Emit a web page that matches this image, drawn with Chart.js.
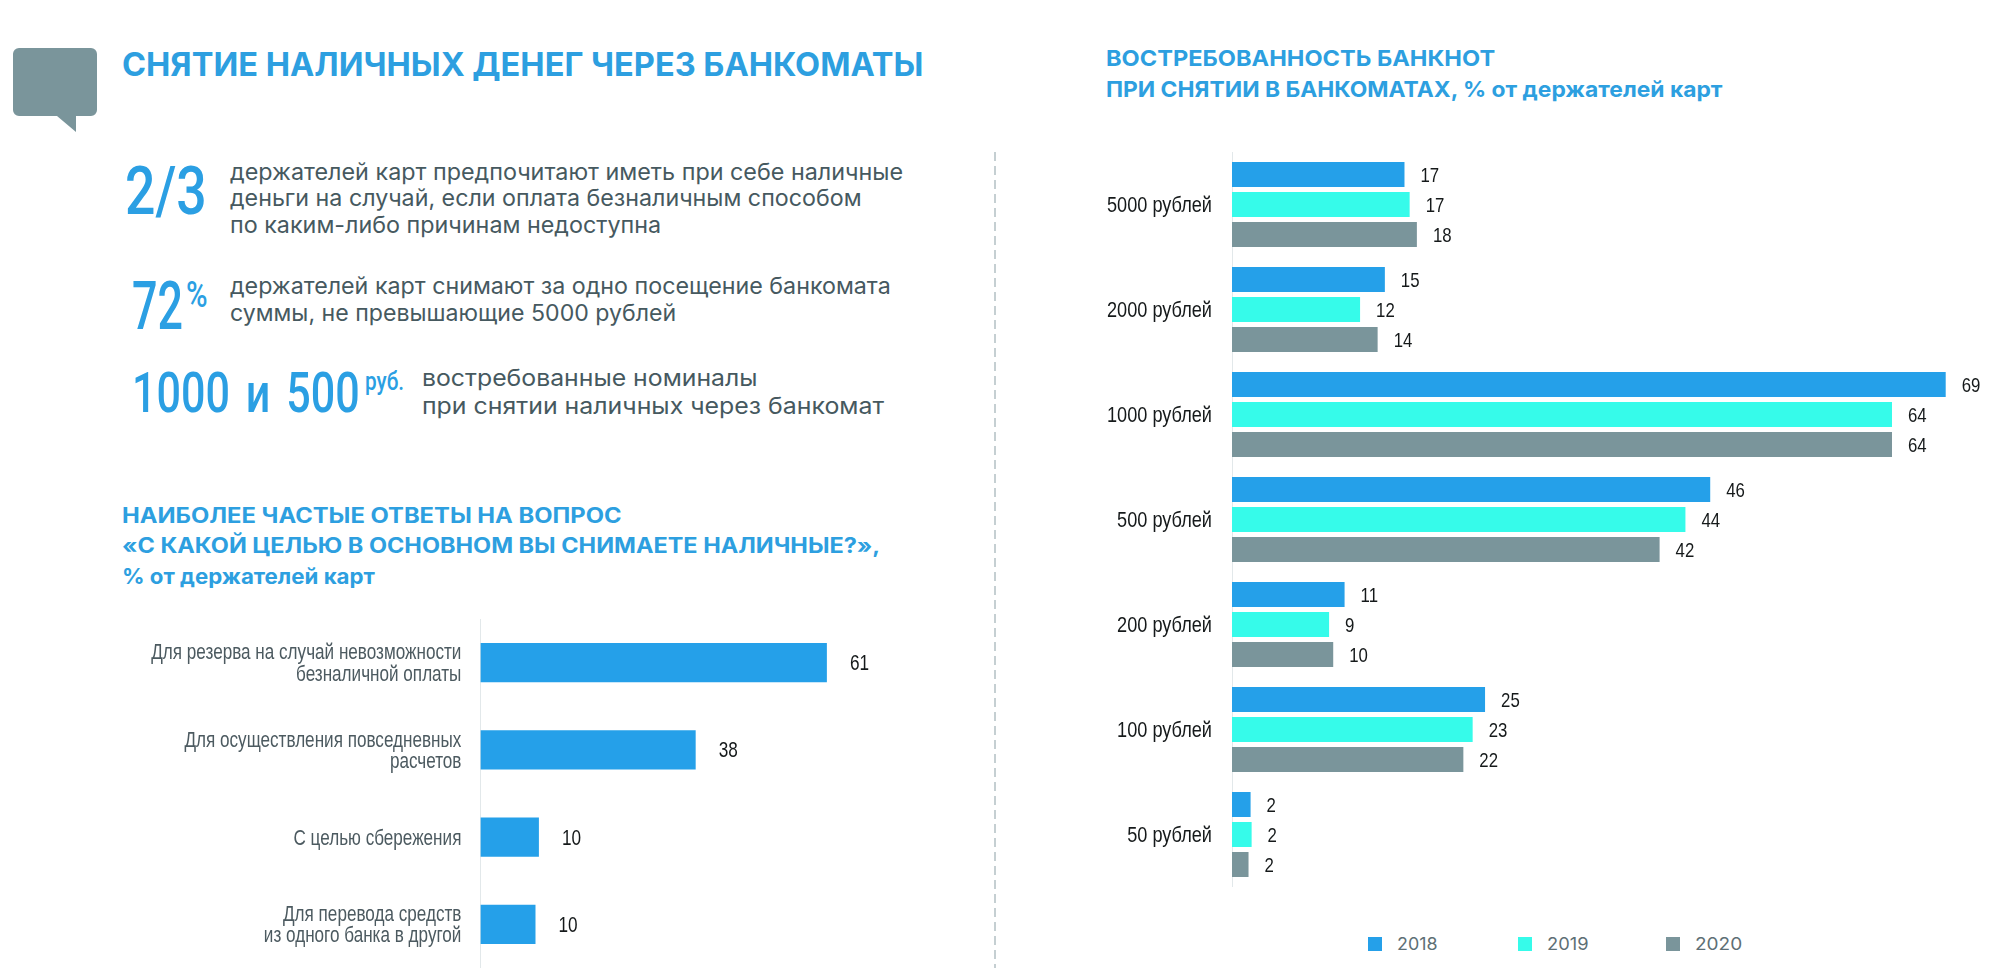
<!DOCTYPE html>
<html lang="ru">
<head>
<meta charset="utf-8">
<title>Снятие наличных денег через банкоматы</title>
<script src="https://cdn.jsdelivr.net/npm/chart.js@4"></script>
<style>
  html, body { margin: 0; padding: 0; background: #fff; width: 2000px; height: 972px; overflow: hidden; }
  .t { position: absolute; white-space: nowrap; line-height: 1; transform-origin: 0 50%; }
  .head { font-family: Inter, sans-serif; font-weight: 700; color: #2d9fe0; }
  .body { font-family: Inter, sans-serif; font-weight: 400; color: #46595f; font-size: 22.5px; }
  .big { font-family: Roboto, sans-serif; font-weight: 500; color: #2b9fe3; }
  .wrap { position: absolute; }
  .sq { position: absolute; top: 937px; width: 14px; height: 14px; }
  .leg { font-family: Inter, sans-serif; color: #5e6f75; font-size: 17px; }
</style>
</head>
<body>
<svg style="position:absolute;left:0;top:0" width="110" height="140">
  <path d="M19 48H91a6 6 0 0 1 6 6V110a6 6 0 0 1 -6 6H76V132L57 116H19a6 6 0 0 1 -6 -6V54a6 6 0 0 1 6 -6Z" fill="#7a959b"/>
</svg>
<svg style="position:absolute;left:994px;top:150px" width="3" height="820">
  <line x1="1" y1="2" x2="1" y2="818" stroke="#9fb0b5" stroke-width="1.2" stroke-dasharray="9 5"/>
</svg>

<span class="t head" data-w="801" style="left:122px;top:65px;font-size:32px">СНЯТИЕ НАЛИЧНЫХ ДЕНЕГ ЧЕРЕЗ БАНКОМАТЫ</span>

<span class="t big" data-w="82" style="left:125px;top:192px;font-size:66px">2/3</span>
<span class="t body" data-w="673" style="left:230px;top:172px">держателей карт предпочитают иметь при себе наличные</span>
<span class="t body" data-w="632" style="left:230px;top:198px">деньги на случай, если оплата безналичным способом</span>
<span class="t body" data-w="431" style="left:230px;top:225px">по каким-либо причинам недоступна</span>

<span class="t big" data-w="51" style="left:132px;top:307px;font-size:66px">72</span>
<span class="t big" data-w="22" style="left:186px;top:295px;font-size:36px">%</span>
<span class="t body" data-w="661" style="left:230px;top:286px">держателей карт снимают за одно посещение банкомата</span>
<span class="t body" data-w="446" style="left:230px;top:313px">суммы, не превышающие 5000 рублей</span>

<span class="t big" data-w="228" style="left:132px;top:393px;font-size:55px;word-spacing:.12em">1000 и 500</span>
<span class="t big" data-w="39" style="left:365px;top:381px;font-size:26px">руб.</span>
<span class="t body" data-w="335" style="left:422px;top:378px">востребованные номиналы</span>
<span class="t body" data-w="462" style="left:422px;top:406px">при снятии наличных через банкомат</span>

<span class="t head" data-w="499" style="left:122px;top:515px;font-size:21px">НАИБОЛЕЕ ЧАСТЫЕ ОТВЕТЫ НА ВОПРОС</span>
<span class="t head" data-w="758" style="left:122px;top:545px;font-size:21px">«С КАКОЙ ЦЕЛЬЮ В ОСНОВНОМ ВЫ СНИМАЕТЕ НАЛИЧНЫЕ?»,</span>
<span class="t head" data-w="253" style="left:122px;top:576px;font-size:21px">% от держателей карт</span>

<span class="t head" data-w="389" style="left:1106px;top:58px;font-size:22px">ВОСТРЕБОВАННОСТЬ БАНКНОТ</span>
<span class="t head" data-w="617" style="left:1106px;top:89px;font-size:22px">ПРИ СНЯТИИ В БАНКОМАТАХ, % от держателей карт</span>

<div class="wrap" style="left:100px;top:619px;width:838px;height:349px"><canvas id="purpose"></canvas></div>
<div class="wrap" style="left:1100px;top:152px;width:900px;height:735px"><canvas id="notes"></canvas></div>
<div id="legend"></div>

<script>
// левый график: цели снятия
const purposeLabels = [
  ['Для резерва на случай невозможности', 'безналичной оплаты'],
  ['Для осуществления повседневных', 'расчетов'],
  'С целью сбережения',
  ['Для перевода средств', 'из одного банка в другой']
];
const purposeBars = [61, 37.9, 10.3, 9.7];
const purposePrinted = [61, 38, 10, 10];

// правый график: номиналы
const notes = ['5000 рублей', '2000 рублей', '1000 рублей', '500 рублей', '200 рублей', '100 рублей', '50 рублей'];
const years = ['2018', '2019', '2020'];
const bars2018 = [16.7, 14.8, 69.1, 46.3, 10.9, 24.5, 1.8];
const bars2019 = [17.2, 12.4, 63.9, 43.9, 9.4, 23.3, 1.9];
const bars2020 = [17.9, 14.1, 63.9, 41.4, 9.8, 22.4, 1.6];
const printed2018 = [17, 15, 69, 46, 11, 25, 2];
const printed2019 = [17, 12, 64, 44, 9, 23, 2];
const printed2020 = [18, 14, 64, 42, 10, 22, 2];

const BLUE = '#25a0e9', CYAN = '#36fbea', GREY = '#7a959b';
const FONT = '"Liberation Sans", sans-serif';

// узкого шрифта нет, поэтому весь текст на canvas сжимаем по горизонтали
const condensed = {
  id: 'condensed',
  beforeInit(chart) {
    const ctx = chart.ctx;
    const fill = ctx.fillText;
    ctx.fillText = function (text, x, y) {
      ctx.save();
      ctx.translate(x, y + 1.5);
      ctx.scale(0.8, 1);
      fill.call(ctx, text, 0, 0);
      ctx.restore();
    };
  }
};

// подпись значения справа от каждого столбца
function valueLabels(printed, gap, size) {
  return {
    id: 'valueLabels',
    afterDatasetsDraw(chart) {
      const ctx = chart.ctx;
      ctx.save();
      ctx.font = size + 'px ' + FONT;
      ctx.fillStyle = '#15191a';
      ctx.textAlign = 'left';
      ctx.textBaseline = 'middle';
      printed.forEach((list, d) => {
        chart.getDatasetMeta(d).data.forEach((bar, i) => {
          ctx.fillText(list[i], bar.x + gap, bar.y);
        });
      });
      ctx.restore();
    }
  };
}

function axes(xMax, axisWidth, tickColor, tickSize, tickPad) {
  return {
    x: { display: false, min: 0, max: xMax },
    y: {
      grid: { display: false, drawTicks: false },
      border: { display: true, color: '#e2e8ea', width: 1 },
      ticks: {
        color: tickColor, padding: tickPad, autoSkip: false,
        font: { family: FONT, size: tickSize, lineHeight: 1 }
      },
      afterFit(scale) {
        scale.width = axisWidth;
        scale.paddingTop = 0;
        scale.paddingBottom = 0;
      }
    }
  };
}

new Chart(document.getElementById('purpose').getContext('2d'), {
  type: 'bar',
  data: {
    labels: purposeLabels,
    datasets: [{ data: purposeBars, backgroundColor: BLUE, categoryPercentage: 1, barPercentage: 0.452 }]
  },
  options: {
    indexAxis: 'y', responsive: true, maintainAspectRatio: false, animation: false,
    layout: { padding: { right: 60 } },
    plugins: { legend: { display: false }, tooltip: { enabled: false } },
    scales: axes(70, 380.4, '#4c5a60', 21.4, 19)
  },
  plugins: [condensed, valueLabels([purposePrinted], 23, 21.5)]
});

const notesChart = new Chart(document.getElementById('notes').getContext('2d'), {
  type: 'bar',
  data: {
    labels: notes,
    datasets: [
      { label: years[0], data: bars2018, backgroundColor: BLUE, categoryPercentage: 0.857, barPercentage: 0.833 },
      { label: years[1], data: bars2019, backgroundColor: CYAN, categoryPercentage: 0.857, barPercentage: 0.833 },
      { label: years[2], data: bars2020, backgroundColor: GREY, categoryPercentage: 0.857, barPercentage: 0.833 }
    ]
  },
  options: {
    indexAxis: 'y', responsive: true, maintainAspectRatio: false, animation: false,
    layout: { padding: { right: 45 } },
    plugins: { legend: { display: false }, tooltip: { enabled: false } },
    scales: axes(70, 132, '#15191a', 22.7, 20)
  },
  plugins: [condensed, valueLabels([printed2018, printed2019, printed2020], 16, 21)]
});

// легенда собирается из наборов данных графика
const legendBox = document.getElementById('legend');
const legendX = [1368, 1518, 1666];
const legendW = [41, 42, 47];
notesChart.data.datasets.forEach((ds, i) => {
  const sq = document.createElement('div');
  sq.className = 'sq';
  sq.style.left = legendX[i] + 'px';
  sq.style.background = ds.backgroundColor;
  legendBox.appendChild(sq);
  const tx = document.createElement('span');
  tx.className = 't leg';
  tx.textContent = ds.label;
  tx.dataset.w = legendW[i];
  tx.style.left = (legendX[i] + 29) + 'px';
  tx.style.top = '944px';
  legendBox.appendChild(tx);
});

// подгонка ширины строк под макет
document.querySelectorAll('.t').forEach(el => {
  const k = el.dataset.w / el.offsetWidth;
  el.style.transform = 'translateY(-50%) scaleX(' + k + ')';
});
</script>
</body>
</html>
